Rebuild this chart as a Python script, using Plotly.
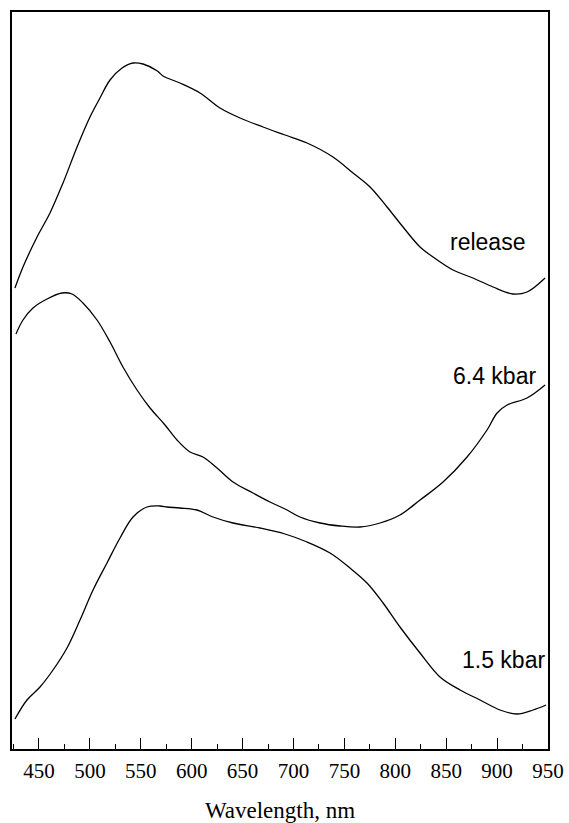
import plotly.graph_objects as go

# Wavelength (nm) and absorbance (arbitrary units, curves offset vertically)
release_wl = [426.4, 434.3, 448.1, 460.8, 473.6, 487.4, 500.1, 509.9, 519.8, 531.6, 542.4,
              552.2, 566.3, 571.8, 588.5, 608.2, 627.8, 647.5, 670.1, 691.7, 713.3, 738.8,
              758.5, 775.2, 791.9, 807.6, 824.3, 837.1, 856.7, 876.3, 896.0, 915.6, 929.4, 947.1]
release_abs = [4.61, 4.82, 5.12, 5.36, 5.66, 6.02, 6.32, 6.51, 6.69, 6.81, 6.86,
               6.85, 6.78, 6.73, 6.66, 6.56, 6.41, 6.31, 6.22, 6.14, 6.06, 5.92,
               5.76, 5.62, 5.42, 5.22, 5.02, 4.92, 4.79, 4.71, 4.62, 4.55, 4.57, 4.71]

kbar64_wl = [427.4, 434.3, 444.1, 457.9, 472.6, 482.4, 493.2, 507.0, 519.8, 532.5, 546.3,
             559.1, 573.8, 585.6, 598.4, 611.1, 624.9, 640.6, 660.2, 676.9, 691.7, 706.4,
             726.1, 745.7, 765.3, 785.0, 804.6, 824.3, 846.9, 870.5, 890.1, 900.0, 909.8,
             929.4, 947.1]
kbar64_abs = [4.15, 4.29, 4.41, 4.50, 4.56, 4.55, 4.46, 4.29, 4.07, 3.82, 3.59,
              3.41, 3.24, 3.09, 2.97, 2.92, 2.81, 2.67, 2.56, 2.47, 2.40, 2.32,
              2.26, 2.23, 2.22, 2.26, 2.34, 2.49, 2.67, 2.92, 3.19, 3.36, 3.44,
              3.51, 3.64]

kbar15_wl = [426.4, 438.2, 451.0, 463.8, 477.5, 490.3, 503.1, 516.8, 529.6, 542.4, 556.1,
             568.9, 575.8, 588.5, 605.2, 620.9, 640.6, 667.1, 691.7, 713.3, 735.9, 755.5,
             772.2, 788.0, 804.6, 824.3, 843.9, 863.6, 883.2, 902.8, 919.6, 935.3, 948.1]
kbar15_abs = [0.30, 0.49, 0.62, 0.79, 1.01, 1.29, 1.59, 1.86, 2.11, 2.32, 2.42,
              2.43, 2.42, 2.41, 2.39, 2.32, 2.26, 2.21, 2.15, 2.07, 1.96, 1.81,
              1.66, 1.46, 1.22, 0.96, 0.72, 0.59, 0.49, 0.39, 0.35, 0.39, 0.44]

labels = ["release", "6.4 kbar", "1.5 kbar"]
label_x = [929.4, 940.2, 949.1]
label_y = [5.07, 3.73, 0.89]

x_ticks = [450, 500, 550, 600, 650, 700, 750, 800, 850, 900, 950]

fig = go.Figure()
for wl, ab, name in [(release_wl, release_abs, labels[0]),
                     (kbar64_wl, kbar64_abs, labels[1]),
                     (kbar15_wl, kbar15_abs, labels[2])]:
    fig.add_trace(go.Scatter(x=wl, y=ab, mode="lines", name=name,
                             line=dict(color="black", width=1.3, shape="spline", smoothing=1.0),
                             showlegend=False, hoverinfo="skip"))

for t, xv, yv in zip(labels, label_x, label_y):
    fig.add_annotation(x=xv, y=yv, text=t, showarrow=False, xanchor="right", yanchor="middle",
                       font=dict(family="Liberation Sans, Arial", size=23, color="black"))

fig.update_layout(
    width=569, height=823,
    margin=dict(l=12, r=21, t=12, b=74),
    paper_bgcolor="white", plot_bgcolor="white",
    xaxis=dict(range=[423.5, 950], tickvals=x_ticks, ticktext=[str(v) for v in x_ticks],
               ticks="inside", ticklen=11, tickwidth=1.2, tickcolor="black",
               minor=dict(dtick=25, tick0=425, ticks="inside", ticklen=5, tickwidth=1, tickcolor="black"),
               showline=True, linecolor="black", linewidth=1.5, mirror=True,
               showgrid=False, zeroline=False, ticklabelstandoff=2, automargin=False,
               tickfont=dict(family="Liberation Serif, Times New Roman", size=21, color="black"),
               title=dict(text="Wavelength, nm", standoff=22,
                          font=dict(family="Liberation Serif, Times New Roman", size=23, color="black"))),
    yaxis=dict(range=[0, 7.37], showticklabels=False, ticks="", automargin=False,
               showline=True, linecolor="black", linewidth=1.5, mirror=True,
               showgrid=False, zeroline=False),
)

fig.write_html("out.html")
